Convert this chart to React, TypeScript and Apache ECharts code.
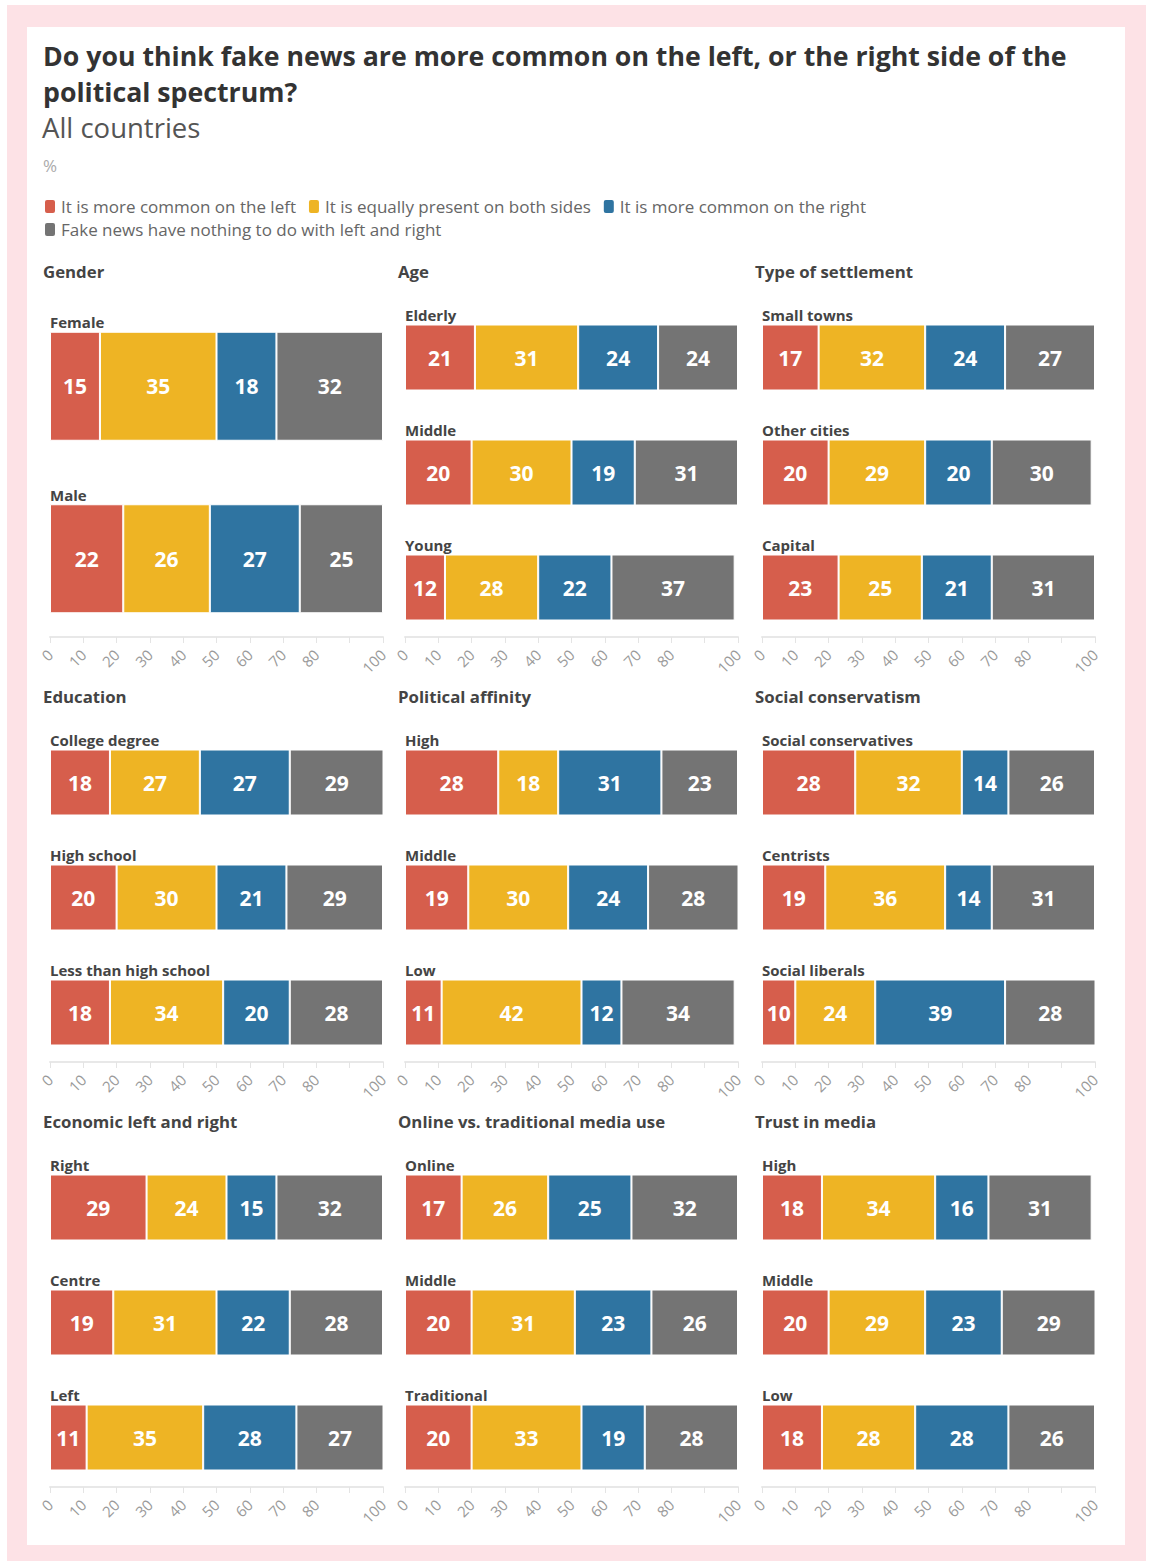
import React, { useEffect, useRef } from "react";
import * as echarts from "echarts";

const SERIES_NAMES = [
  "It is more common on the left",
  "It is equally present on both sides",
  "It is more common on the right",
  "Fake news have nothing to do with left and right",
];
const COLORS = ["#d65e4c", "#eeb424", "#2f74a1", "#747474"];

const PANEL_TITLES = [
  "Gender",
  "Age",
  "Type of settlement",
  "Education",
  "Political affinity",
  "Social conservatism",
  "Economic left and right",
  "Online vs. traditional media use",
  "Trust in media",
];

const GENDER_CATS = ["Female", "Male"];
const GENDER_VALUES = [[15, 35, 18, 32], [22, 26, 27, 25]];
const AGE_CATS = ["Elderly", "Middle", "Young"];
const AGE_VALUES = [[21, 31, 24, 24], [20, 30, 19, 31], [12, 28, 22, 37]];
const SETTLEMENT_CATS = ["Small towns", "Other cities", "Capital"];
const SETTLEMENT_VALUES = [[17, 32, 24, 27], [20, 29, 20, 30], [23, 25, 21, 31]];
const EDUCATION_CATS = ["College degree", "High school", "Less than high school"];
const EDUCATION_VALUES = [[18, 27, 27, 29], [20, 30, 21, 29], [18, 34, 20, 28]];
const POLITICAL_CATS = ["High", "Middle", "Low"];
const POLITICAL_VALUES = [[28, 18, 31, 23], [19, 30, 24, 28], [11, 42, 12, 34]];
const SOCIAL_CATS = ["Social conservatives", "Centrists", "Social liberals"];
const SOCIAL_VALUES = [[28, 32, 14, 26], [19, 36, 14, 31], [10, 24, 39, 28]];
const ECONOMIC_CATS = ["Right", "Centre", "Left"];
const ECONOMIC_VALUES = [[29, 24, 15, 32], [19, 31, 22, 28], [11, 35, 28, 27]];
const MEDIA_CATS = ["Online", "Middle", "Traditional"];
const MEDIA_VALUES = [[17, 26, 25, 32], [20, 31, 23, 26], [20, 33, 19, 28]];
const TRUST_CATS = ["High", "Middle", "Low"];
const TRUST_VALUES = [[18, 34, 16, 31], [20, 29, 23, 29], [18, 28, 28, 26]];

const AXIS_TICKS = [0, 10, 20, 30, 40, 50, 60, 70, 80, 90, 100];
const HIDDEN_TICKS = [90];

const PANEL_CATS = [
  GENDER_CATS, AGE_CATS, SETTLEMENT_CATS,
  EDUCATION_CATS, POLITICAL_CATS, SOCIAL_CATS,
  ECONOMIC_CATS, MEDIA_CATS, TRUST_CATS,
];
const PANEL_VALUES = [
  GENDER_VALUES, AGE_VALUES, SETTLEMENT_VALUES,
  EDUCATION_VALUES, POLITICAL_VALUES, SOCIAL_VALUES,
  ECONOMIC_VALUES, MEDIA_VALUES, TRUST_VALUES,
];

const FONT = "'Open Sans', 'Noto Sans', sans-serif";
const COL_LEFT = [50, 405, 762];
const GRID_W = 333;
const ROW_TOP = 300;
const ROW_STEP = 425;
const GRID_H = 345;

export default function App() {
  const ref = useRef<HTMLDivElement>(null);
  useEffect(() => {
    if (!ref.current) return;
    const chart = echarts.init(ref.current, null, { renderer: "svg" });

    const grids: any[] = [];
    const xAxes: any[] = [];
    const yAxes: any[] = [];
    const series: any[] = [];
    const titles: any[] = [
      {
        text: "Do you think fake news are more common on the left, or the right side of the\npolitical spectrum?",
        left: 43,
        top: 37,
        padding: 0,
        textStyle: { fontFamily: FONT, fontSize: 26.7, fontWeight: "bold", color: "#333", lineHeight: 36 },
      },
      {
        text: "All countries",
        left: 42,
        top: 113.5,
        padding: 0,
        textStyle: { fontFamily: FONT, fontSize: 27.5, fontWeight: "normal", color: "#555" },
      },
      {
        text: "%",
        left: 43,
        top: 157,
        padding: 0,
        textStyle: { fontFamily: FONT, fontSize: 17, fontWeight: "normal", color: "#aaa" },
      },
    ];

    PANEL_TITLES.forEach((title, p) => {
      const col = p % 3;
      const row = Math.floor(p / 3);
      const left = COL_LEFT[col];
      const top = ROW_TOP + row * ROW_STEP;
      const cats = PANEL_CATS[p];
      const values = PANEL_VALUES[p];
      const barW = cats.length === 2 ? 109 : 66;
      titles.push({
        text: title,
        left: left - 7,
        top: top - 37,
        padding: 0,
        textStyle: { fontFamily: FONT, fontSize: 16.8, fontWeight: "bold", color: "#444" },
      });
      grids.push({ left, top, width: GRID_W, height: GRID_H });
      xAxes.push({
        gridIndex: p,
        type: "value",
        min: AXIS_TICKS[0],
        max: AXIS_TICKS[AXIS_TICKS.length - 1],
        interval: AXIS_TICKS[1] - AXIS_TICKS[0],
        offset: -8,
        axisLine: { show: true, lineStyle: { color: "#e8e8e8", width: 2 } },
        axisTick: { show: true, length: 6, lineStyle: { color: "#e4e4e4" } },
        splitLine: { show: false },
        axisLabel: {
          rotate: 45,
          fontFamily: FONT,
          fontSize: 15,
          color: "#9a9a9a",
          margin: 15,
          formatter: (v: number) => (HIDDEN_TICKS.includes(v) ? "" : String(v)),
        },
      });
      yAxes.push({
        gridIndex: p,
        type: "category",
        data: cats,
        inverse: true,
        axisLine: { show: false },
        axisTick: { show: false },
        splitLine: { show: false },
        axisLabel: {
          inside: true,
          margin: 0,
          verticalAlign: "bottom",
          padding: [0, 0, barW / 2 + 2, 0],
          fontFamily: FONT,
          fontSize: 15,
          fontWeight: "bold",
          color: "#444",
        },
      });
      SERIES_NAMES.forEach((name, s) => {
        series.push({
          name,
          type: "bar",
          xAxisIndex: p,
          yAxisIndex: p,
          stack: "panel" + p,
          barWidth: barW,
          data: values.map((r) => r[s]),
          itemStyle: { color: COLORS[s], borderColor: "#fff", borderWidth: 1 },
          label: {
            show: true,
            position: "inside",
            color: "#fff",
            fontFamily: FONT,
            fontSize: 21,
            fontWeight: "bold",
          },
        });
      });
    });

    const legendText = { fontFamily: FONT, fontSize: 17, color: "#666" };
    chart.setOption({
      animation: false,
      backgroundColor: "transparent",
      title: titles,
      legend: [
        {
          data: SERIES_NAMES.slice(0, 3),
          left: 43,
          top: 198,
          padding: 0,
          itemWidth: 12,
          itemHeight: 15,
          itemGap: 11,
          icon: "roundRect",
          textStyle: legendText,
        },
        {
          data: SERIES_NAMES.slice(3),
          left: 43,
          top: 221,
          padding: 0,
          itemWidth: 12,
          itemHeight: 15,
          itemGap: 11,
          icon: "roundRect",
          textStyle: legendText,
        },
      ],
      graphic: [
        { type: "rect", z: -10, silent: true, shape: { x: 7, y: 5, width: 1139, height: 1556 }, style: { fill: "#fde2e6" } },
        { type: "rect", z: -9, silent: true, shape: { x: 27, y: 27, width: 1098, height: 1518 }, style: { fill: "#ffffff" } },
      ],
      grid: grids,
      xAxis: xAxes,
      yAxis: yAxes,
      series,
    });
    return () => chart.dispose();
  }, []);
  return (
    <div
      ref={ref}
      style={{ position: "absolute", left: 0, top: 0, width: 1149, height: 1563, background: "#fff" }}
    />
  );
}
